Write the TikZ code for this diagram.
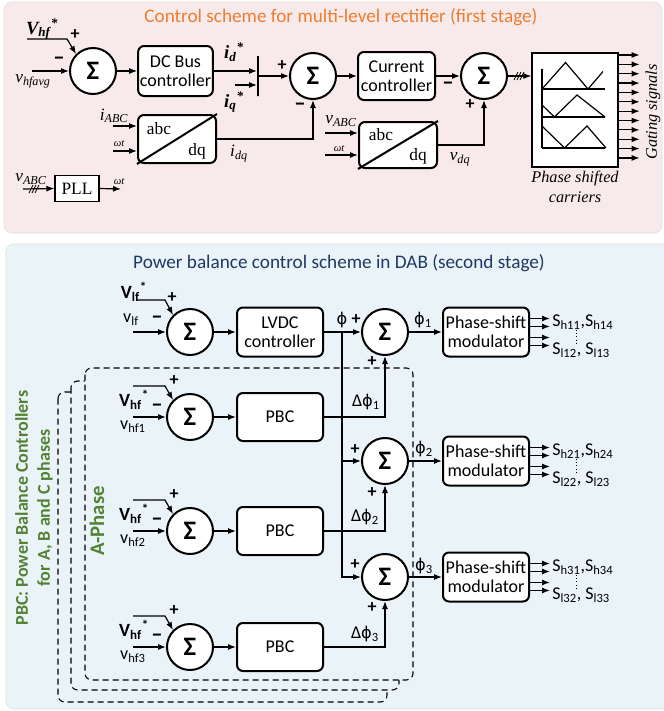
\documentclass[tikz,border=0pt]{standalone}
\usepackage{fontspec}
\setmainfont{Carlito}
\newfontfamily\tnr{Liberation Serif}
\newfontfamily\dv[Scale=0.9]{DejaVu Sans}
\usetikzlibrary{arrows.meta,calc,positioning}

\definecolor{toppink}{HTML}{F8EAEA}
\definecolor{botblue}{HTML}{EAF4F8}
\definecolor{panelgray}{HTML}{DDDDDD}
\definecolor{titleorange}{HTML}{ED7D31}
\definecolor{titleblue}{HTML}{203864}
\definecolor{phgreen}{HTML}{548235}

\newcommand{\ph}{{\dv ϕ}}

\tikzset{
  sumnode/.style={circle, draw, fill=white, line width=1.5pt, minimum size=34.5pt, inner sep=0pt, font=\fontsize{20}{20}\selectfont\bfseries},
  ctrlbox/.style={draw, fill=white, rounded corners=4.5pt, line width=1.5pt, align=center, inner sep=1pt, font=\fontsize{13.5}{14.5}\selectfont},
  sig/.style={-{Latex[length=6pt,width=4.5pt]}, line width=0.9pt},
  wire/.style={line width=0.9pt},
  sgn/.style={font=\fontsize{13.5}{13.5}\selectfont\bfseries, inner sep=0pt},
  sgnm/.style={font=\fontsize{17}{17}\selectfont\bfseries, inner sep=0pt},
  tmath/.style={font=\tnr\itshape\fontsize{13}{13}\selectfont, inner sep=0pt},
  tbold/.style={font=\tnr\bfseries\itshape\fontsize{14}{14}\selectfont, inner sep=0pt},
  tsmall/.style={font=\tnr\itshape\fontsize{8}{8}\selectfont, inner sep=0pt},
  phasebox/.style={draw, dashed, dash pattern=on 4.5pt off 3pt, line width=0.8pt, rounded corners=5pt, fill=botblue},
}

% three short strokes on a bus line
\newcommand{\slashes}[1]{\foreach \dx in {-3,0,3} \draw[line width=0.6pt] ($(#1)+(\dx-2,4)$) --++ (4,-8);}

% one PBC row of the A-phase
\newcommand{\pbcrow}[2]{%
  \node[sumnode] (sh#1) at (190,#2) {Σ};
  \node[ctrlbox, minimum width=64.5pt, minimum height=36pt] (pbc#1) at (280,#2) {PBC};
  \coordinate (ref#1) at (133,#2-31);
  \coordinate (meas#1) at (133,#2);
  \draw[sig] (ref#1) --++ (32,0) -- (sh#1.135);
  \draw[sig] (meas#1) -- (sh#1.west);
  \draw[sig] (sh#1.east) -- (pbc#1.west);
  \node[sgn] (shp#1) at (174,#2-36) {+};
  \node[sgnm] (shm#1) at (157,#2-9) {--};
  \node[font=\bfseries\fontsize{14}{14}\selectfont, inner sep=0pt] (vhf#1) at (134,#2-17) {V\textsubscript{hf}\textsuperscript{*}};
  \node[inner sep=0pt] (vm#1) at (133,#2+10) {v\textsubscript{hf#1}};
}

% four gate outputs of a modulator
\newcommand{\psmout}[3]{%
  \foreach \dy in {-13.5,-5.5,5.5,13.5} \draw[sig] ($(#1.east)+(0,\dy)$) --++ (20,0);
  \node[anchor=west, inner sep=0pt] (#1h) at ($(#1.east)+(22,-10)$) {#2};
  \node[anchor=west, inner sep=0pt] (#1l) at ($(#1.east)+(22,18)$) {#3};
  \draw[dotted] ($(#1.east)+(46,-2)$) --++ (0,14);
}

\begin{document}
\begin{tikzpicture}[x=0.75pt, y=-0.75pt, font=\fontsize{13.5}{15}\selectfont]
\useasboundingbox (0,0) rectangle (664,711);

% panels
\draw[panelgray, fill=toppink, rounded corners=6pt] (4,2) rectangle (662,233);
\draw[panelgray, fill=botblue, rounded corners=6pt] (6,244) rectangle (670,709);
\node[titleorange, font=\fontsize{14.4}{16}\selectfont] (title1) at (341,17) {Control scheme for multi-level rectifier (first stage)};
\node[titleblue, font=\fontsize{14.4}{16}\selectfont] (title2) at (339,263) {Power balance control scheme in DAB (second stage)};

% first stage: blocks
\node[sumnode] (s1) at (93,71) {Σ};
\node[ctrlbox, minimum width=56pt, minimum height=37.5pt] (dcbus) at (175.5,71) {DC Bus\\controller};
\node[draw, line width=1.5pt, minimum width=0pt, minimum height=30pt, inner sep=0pt] (mux) at (258,76) {};
\node[sumnode] (s2) at (313,76) {Σ};
\node[ctrlbox, minimum width=57.75pt, minimum height=36pt] (curr) at (396.5,76) {Current\\controller};
\node[sumnode] (s3) at (484,76) {Σ};
\node[draw, line width=1pt, fill=white, minimum width=64.5pt, minimum height=85.5pt] (carr) at (575,110) {};
\node[ctrlbox, minimum width=58.5pt, minimum height=36pt] (abc1) at (177,139) {};
\node[ctrlbox, minimum width=58.5pt, minimum height=34.5pt] (abc2) at (398,145) {};
\node[draw, line width=0.9pt, fill=white, minimum width=33pt, minimum height=20pt, font=\tnr\fontsize{13}{13}\selectfont] (pll) at (77,188.5) {PLL};

% abc/dq transforms
\draw[line width=1.5pt] (abc1.south west) -- (abc1.north east);
\draw[line width=1.5pt] (abc2.south west) -- (abc2.north east);
\node[font=\tnr\fontsize{13}{13}\selectfont] (abc1a) at (159,129) {abc};
\node[font=\tnr\fontsize{13}{13}\selectfont] (abc1b) at (197,151) {dq};
\node[font=\tnr\fontsize{13}{13}\selectfont] (abc2a) at (381,135) {abc};
\node[font=\tnr\fontsize{13}{13}\selectfont] (abc2b) at (418,156) {dq};

% carriers
\draw[line width=0.9pt] (542,69) -- (542,148);
\draw[line width=0.9pt] (542,89) -- (605,89);
\draw[line width=0.9pt] (542,117) -- (605,117);
\draw[line width=0.9pt] (542,148) -- (605,148);
\draw[line width=0.9pt] (542,89) -- (565.5,62.5) -- (588,89) -- (603,71.5);
\draw[line width=0.9pt] (542,105) -- (554.5,117) -- (577,95) -- (605,117);
\draw[line width=0.9pt] (542,126) -- (564.5,148) -- (587,126) -- (606,148);

% first stage: signals
\coordinate (vhfin) at (27,39);
\coordinate (vavgin) at (32,71);
\coordinate (iqin) at (235,85);
\draw[sig] (vhfin) --++ (40,0) -- (s1.135);
\draw[sig] (vavgin) -- (s1.west);
\draw[sig] (s1.east) -- (dcbus.west);
\draw[sig] (dcbus.east) -- (dcbus.east -| mux.west);
\draw[sig] (iqin) -- (iqin -| mux.west);
\draw[sig] (mux.east |- s2.west) -- (s2.west);
\draw[sig] (s2.east) -- (curr.west);
\draw[sig] (curr.east) -- (s3.west);
\draw[sig] (s3.east) -- (s3.east -| carr.west);
\slashes{519,76}
\foreach \k in {0,...,11} \draw[sig] ($(carr.east)+(0,-55+9.36*\k)$) --++ (21,0);

\coordinate (iabcin) at (113,126);
\coordinate (wt1in) at (113,151);
\draw[sig] (iabcin) -- (iabcin -| abc1.west);
\draw[sig] (wt1in) -- (wt1in -| abc1.west);
\draw[sig] (abc1.east) -| (s2.south);

\coordinate (vabc1in) at (23,189);
\coordinate (wtout) at (121,189);
\draw[sig] (vabc1in) -- (pll.west);
\slashes{34,189}
\draw[sig] (pll.east) -- (wtout);

\coordinate (vabc2in) at (325,133);
\coordinate (wt2in) at (325,155);
\draw[sig] (vabc2in) -- (vabc2in -| abc2.west);
\draw[sig] (wt2in) -- (wt2in -| abc2.west);
\draw[sig] (abc2.east) -| (s3.south);

% first stage: labels
\node[tbold] (vhfref) at (42,29) {V\textsubscript{hf}\textsuperscript{*}};
\node[tmath] (vavg) at (33,81) {v\textsubscript{hfavg}};
\node[sgn] (s1p) at (75,35) {+};
\node[sgnm] (s1m) at (59,61) {--};
\node[tbold] (idref) at (234,52) {i\textsubscript{d}\textsuperscript{*}};
\node[tbold] (iqref) at (234,102) {i\textsubscript{q}\textsuperscript{*}};
\node[sgn] (s2p) at (282,66) {+};
\node[sgnm] (s2m) at (300,107) {--};
\node[sgnm] (s3m) at (448,86) {--};
\node[sgn] (s3p) at (470,105) {+};
\node[tmath] (iabc) at (114,116) {i\textsubscript{ABC}};
\node[tsmall] (wt1) at (119,144) {ωt};
\node[tmath] (idq) at (239,154) {i\textsubscript{dq}};
\node[tmath] (vabc1) at (31,179) {v\textsubscript{ABC}};
\node[tsmall] (wtpll) at (119,182) {ωt};
\node[tmath] (vabc2) at (341,121) {v\textsubscript{ABC}};
\node[tsmall] (wt2) at (339,149) {ωt};
\node[tmath] (vdq) at (460,159) {v\textsubscript{dq}};
\node[font=\tnr\itshape\fontsize{12.2}{14.5}\selectfont, rotate=90] (gate) at (653,112) {Gating signals};
\node[font=\tnr\itshape\fontsize{12.2}{14.5}\selectfont, align=center] (carrlbl) at (575,187) {Phase shifted\\carriers};

% second stage: phase boxes
\draw[phasebox] (58,392) rectangle (387,702);
\draw[phasebox] (71,381) rectangle (399,690);
\draw[phasebox] (85,368) rectangle (413,680);
\node[phgreen, font=\bfseries\fontsize{13.5}{16.5}\selectfont, rotate=90, align=center] (pbcnote) at (34,508) {PBC: Power Balance Controllers\\for A, B and C phases};
\node[phgreen, font=\bfseries\fontsize{15.5}{16}\selectfont, rotate=90] (aphase) at (97,521) {A-Phase};

% second stage: blocks
\node[sumnode] (slf) at (190,332) {Σ};
\node[ctrlbox, minimum width=64.5pt, minimum height=36.75pt] (lvdc) at (280,332) {LVDC\\controller};
\node[sumnode] (sp1) at (385,332) {Σ};
\node[sumnode] (sp2) at (385,461) {Σ};
\node[sumnode] (sp3) at (385,577) {Σ};
\node[ctrlbox, minimum width=64.5pt, minimum height=36.75pt] (psm1) at (486,332) {Phase-shift\\modulator};
\node[ctrlbox, minimum width=64.5pt, minimum height=36.75pt] (psm2) at (486,461) {Phase-shift\\modulator};
\node[ctrlbox, minimum width=64.5pt, minimum height=36.75pt] (psm3) at (486,577) {Phase-shift\\modulator};
\pbcrow{1}{417}
\pbcrow{2}{531}
\pbcrow{3}{647}

% second stage: signals
\coordinate (vlfref) at (137,300);
\coordinate (vlfin) at (133,332);
\coordinate (jn) at (342,332);
\draw[sig] (vlfref) --++ (28,0) -- (slf.135);
\draw[sig] (vlfin) -- (slf.west);
\draw[sig] (slf.east) -- (lvdc.west);
\draw[sig] (lvdc.east) -- (sp1.west);
\draw[sig] (jn) |- (sp2.west);
\draw[sig] (jn) |- (sp3.west);
\draw[sig] (pbc1.east) -| (sp1.south);
\draw[sig] (pbc2.east) -| (sp2.south);
\draw[sig] (pbc3.east) -| (sp3.south);
\draw[sig] (sp1.east) -- (psm1.west);
\draw[sig] (sp2.east) -- (psm2.west);
\draw[sig] (sp3.east) -- (psm3.west);
\psmout{psm1}{S\textsubscript{h11},S\textsubscript{h14}}{S\textsubscript{l12}, S\textsubscript{l13}}
\psmout{psm2}{S\textsubscript{h21},S\textsubscript{h24}}{S\textsubscript{l22}, S\textsubscript{l23}}
\psmout{psm3}{S\textsubscript{h31},S\textsubscript{h34}}{S\textsubscript{l32}, S\textsubscript{l33}}

% second stage: labels
\node[font=\bfseries\fontsize{14}{14}\selectfont, inner sep=0pt] (vlfstar) at (134,292) {V\textsubscript{lf}\textsuperscript{*}};
\node[inner sep=0pt] (vlf) at (131,320) {v\textsubscript{lf}};
\node[sgn] (slfp) at (172,298) {+};
\node[sgnm] (slfm) at (157,320) {--};
\node[inner sep=0pt] (phi0) at (342,320) {\ph};
\node[sgn] (sp1p) at (356,320) {+};
\node[sgn] (sp1b) at (372,362) {+};
\node[sgn] (sp2p) at (355,450) {+};
\node[sgn] (sp2b) at (372,493) {+};
\node[sgn] (sp3p) at (355,565) {+};
\node[sgn] (sp3b) at (372,608) {+};
\node[inner sep=0pt] (phi1) at (423,320) {\ph\textsubscript{1}};
\node[inner sep=0pt] (phi2) at (424,449) {\ph\textsubscript{2}};
\node[inner sep=0pt] (phi3) at (424,566) {\ph\textsubscript{3}};
\node[inner sep=0pt] (dphi1) at (366,402) {Δ\ph\textsubscript{1}};
\node[inner sep=0pt] (dphi2) at (365,517) {Δ\ph\textsubscript{2}};
\node[inner sep=0pt] (dphi3) at (365,634) {Δ\ph\textsubscript{3}};
\end{tikzpicture}
\end{document}
